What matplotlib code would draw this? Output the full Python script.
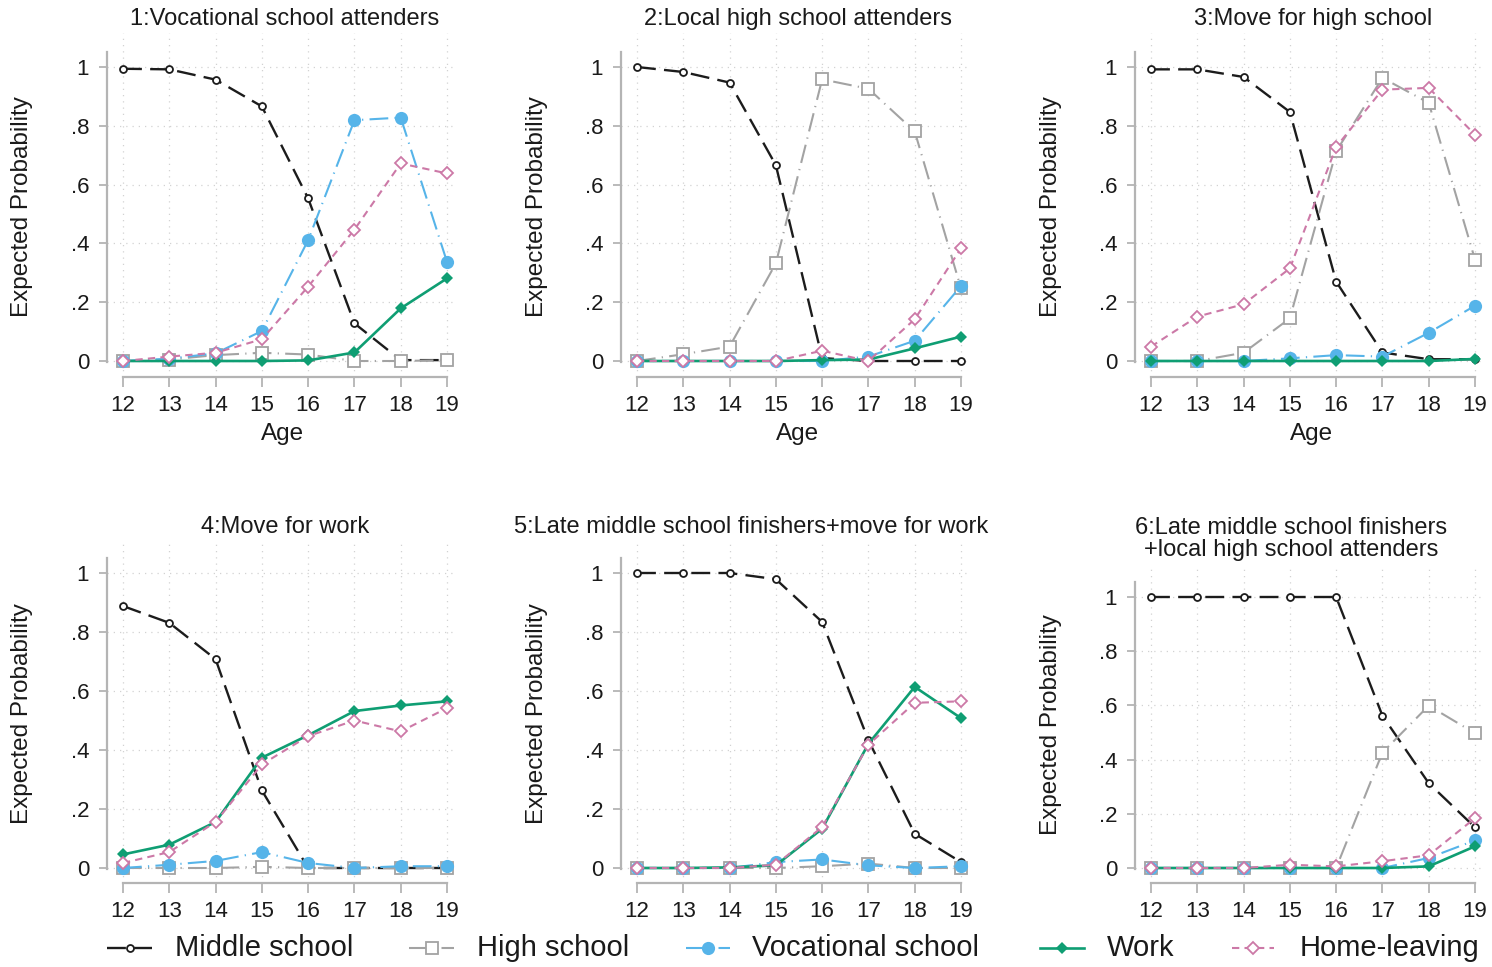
import matplotlib
matplotlib.use("Agg")
import matplotlib.pyplot as plt
from matplotlib.lines import Line2D

plt.rcParams["font.family"] = ["Liberation Sans", "DejaVu Sans"]

ages = [12, 13, 14, 15, 16, 17, 18, 19]

titles = [
    "1:Vocational school attenders",
    "2:Local high school attenders",
    "3:Move for high school",
    "4:Move for work",
    "5:Late middle school finishers+move for work",
    "6:Late middle school finishers\n+local high school attenders",
]

series_names = ["Middle school", "High school", "Vocational school", "Work", "Home-leaving"]

# expected probabilities, one list per panel and state
middle = [
    [0.994, 0.992, 0.957, 0.866, 0.553, 0.128, 0.003, 0.003],
    [1.000, 0.983, 0.947, 0.666, 0.010, 0.000, 0.000, 0.000],
    [0.992, 0.992, 0.966, 0.847, 0.270, 0.029, 0.006, 0.006],
    [0.888, 0.831, 0.708, 0.263, 0.000, 0.000, 0.000, 0.000],
    [1.000, 1.000, 1.000, 0.979, 0.834, 0.433, 0.116, 0.020],
    [1.000, 1.000, 1.000, 1.000, 1.000, 0.562, 0.313, 0.150],
]
high = [
    [0.000, 0.005, 0.020, 0.028, 0.022, 0.000, 0.000, 0.003],
    [0.000, 0.023, 0.049, 0.332, 0.958, 0.926, 0.781, 0.247],
    [0.000, 0.000, 0.028, 0.145, 0.713, 0.963, 0.878, 0.345],
    [0.000, 0.000, 0.000, 0.004, 0.000, 0.000, 0.000, 0.000],
    [0.000, 0.000, 0.000, 0.000, 0.006, 0.015, 0.000, 0.000],
    [0.000, 0.000, 0.000, 0.000, 0.000, 0.426, 0.599, 0.497],
]
vocational = [
    [0.000, 0.008, 0.026, 0.102, 0.411, 0.819, 0.828, 0.337],
    [0.000, 0.000, 0.000, 0.000, 0.000, 0.015, 0.069, 0.255],
    [0.000, 0.000, 0.000, 0.009, 0.020, 0.015, 0.096, 0.188],
    [0.000, 0.011, 0.024, 0.054, 0.017, 0.000, 0.006, 0.006],
    [0.000, 0.000, 0.000, 0.020, 0.029, 0.009, 0.000, 0.006],
    [0.000, 0.000, 0.000, 0.000, 0.000, 0.000, 0.037, 0.102],
]
work = [
    [0.000, 0.000, 0.000, 0.000, 0.002, 0.029, 0.179, 0.281],
    [0.000, 0.000, 0.000, 0.000, 0.003, 0.005, 0.043, 0.083],
    [0.000, 0.000, 0.000, 0.000, 0.000, 0.000, 0.000, 0.007],
    [0.046, 0.079, 0.156, 0.374, 0.450, 0.532, 0.551, 0.565],
    [0.000, 0.000, 0.002, 0.009, 0.133, 0.421, 0.614, 0.508],
    [0.000, 0.000, 0.000, 0.000, 0.000, 0.000, 0.006, 0.080],
]
home = [
    [0.000, 0.015, 0.028, 0.074, 0.253, 0.447, 0.672, 0.638],
    [0.000, 0.000, 0.000, 0.000, 0.035, 0.000, 0.142, 0.383],
    [0.049, 0.151, 0.193, 0.315, 0.728, 0.923, 0.929, 0.770],
    [0.017, 0.054, 0.156, 0.351, 0.447, 0.500, 0.463, 0.542],
    [0.000, 0.000, 0.000, 0.011, 0.139, 0.418, 0.560, 0.565],
    [0.000, 0.000, 0.000, 0.012, 0.006, 0.025, 0.047, 0.184],
]

W, H = 1492, 967
TXT = "#1a1a1a"
AX = "#b4b4b4"

styles = [
    dict(color="#1c1c1c", lw=1.7, dashes=(8, 3.5), marker="o", ms=5, mfc="white", mew=1.3),
    dict(color="#a3a3a3", lw=1.5, dashes=(9, 3, 0.6, 3), marker="s", ms=8, mfc="white", mew=1.3),
    dict(color="#56B4E9", lw=1.5, dashes=(9, 3, 0.6, 3), marker="o", ms=9.5, mfc="#56B4E9", mew=0),
    dict(color="#0f9e73", lw=1.9, dashes=(None, None), marker="D", ms=6.5, mfc="#0f9e73", mew=0),
    dict(color="#cc79a7", lw=1.5, dashes=(3.5, 2.5), marker="D", ms=6.5, mfc="white", mew=1.3),
]


def style_kw(st):
    kw = dict(color=st["color"], lw=st["lw"], marker=st["marker"], ms=st["ms"],
              mfc=st["mfc"], mec=st["color"], mew=st["mew"])
    if st["dashes"][0] is not None:
        kw["dashes"] = st["dashes"]
    else:
        kw["ls"] = "-"
    return kw


# pixel geometry: x=12, x=19, y=1, y=0, axes top, axes bottom
boxes = [
    (123, 447, 67, 361, 33, 377),
    (637, 961, 67, 361, 33, 377),
    (1151, 1475, 67, 361, 33, 377),
    (123, 447, 573, 868, 542, 883),
    (637, 961, 573, 868, 542, 883),
    (1151, 1475, 597, 868, 568, 883),
]
title_pos = [(285, 19), (798, 19), (1313, 19), (285, 527), (751, 527), (1291, 539)]
ylab_pos = [(22, 207), (537, 207), (1051, 207), (22, 714), (537, 714), (1051, 725)]
age_pos = [(283, 434), (798, 434), (1312, 434)]

fig = plt.figure(figsize=(W / 100, H / 100), dpi=100)

for i in range(6):
    x12, x19, y1p, y0p, topp, botp = boxes[i]
    xpu = (x19 - x12) / 7
    ypu = y0p - y1p
    left, right = x12 - 16, x19 + 10
    ax = fig.add_axes([left / W, 1 - botp / H, (right - left) / W, (botp - topp) / H])
    ax.set_xlim(12 - 16 / xpu, 19 + 10 / xpu)
    ax.set_ylim(-(botp - y0p) / ypu, 1 + (y1p - topp) / ypu)

    data = [middle[i], high[i], vocational[i], work[i], home[i]]
    for k in range(5):
        ax.plot(ages, data[k], zorder=3 + k, clip_on=False, **style_kw(styles[k]))

    ax.set_xticks(ages)
    ax.set_yticks([0, 0.2, 0.4, 0.6, 0.8, 1.0])
    ax.set_yticklabels(["0", ".2", ".4", ".6", ".8", "1"])
    ax.grid(True, color="#d2d2d2", lw=0.9, dashes=(1, 4))
    ax.set_axisbelow(True)
    for s in ["top", "right"]:
        ax.spines[s].set_visible(False)
    for s in ["left", "bottom"]:
        ax.spines[s].set_color(AX)
        ax.spines[s].set_linewidth(1.6)
    ax.spines["left"].set_bounds(-0.004, 1 + 15 / ypu)
    ax.spines["bottom"].set_bounds(12, 19)
    ax.tick_params(axis="x", length=7.2, width=1.3, color=AX, pad=6,
                   labelsize=16, labelcolor=TXT)
    ax.tick_params(axis="y", length=5.8, width=1.3, color=AX, pad=7,
                   labelsize=16, labelcolor=TXT)

    tx, ty = title_pos[i]
    fig.text(tx / W, 1 - ty / H, titles[i], ha="center", va="center",
             fontsize=17, color=TXT, linespacing=0.95)
    lx, ly = ylab_pos[i]
    fig.text(lx / W, 1 - ly / H, "Expected Probability", rotation=90,
             ha="center", va="center", fontsize=17.5, color=TXT)
    if i < 3:
        axx, axy = age_pos[i]
        fig.text(axx / W, 1 - axy / H, "Age", ha="center", va="center",
                 fontsize=17.5, color=TXT)

# legend along the bottom
leg_handles = [(107, 152), (409, 454), (686, 730), (1040, 1084), (1232, 1274)]
leg_text_x = [175, 477, 752, 1107, 1300]
leg_y = 948
for k in range(5):
    h0, h1 = leg_handles[k]
    kw = style_kw(styles[k])
    line = Line2D([h0 / W, (h0 + h1) / 2 / W, h1 / W], [1 - leg_y / H] * 3,
                  transform=fig.transFigure, markevery=[1], **kw)
    fig.add_artist(line)
    fig.text(leg_text_x[k] / W, 1 - leg_y / H, series_names[k], ha="left",
             va="center", fontsize=21, color=TXT)

fig.savefig("out.png", dpi=100)
